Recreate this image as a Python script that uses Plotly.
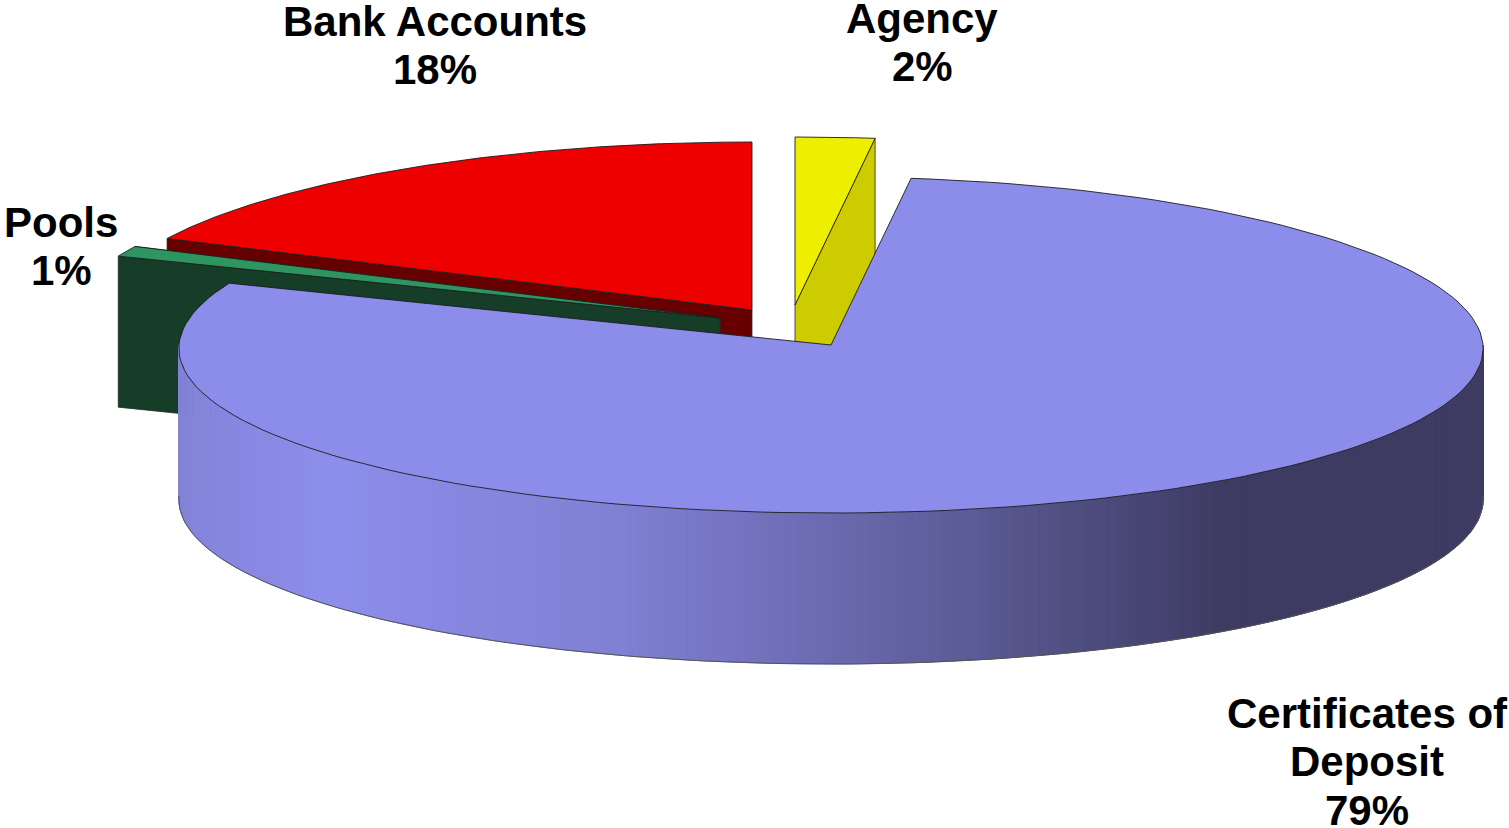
import numpy as np
import plotly.graph_objects as go

# Data (clockwise from 12 o'clock)
categories = ["Agency", "Certificates of Deposit", "Pools", "Bank Accounts"]
values = [2, 79, 1, 18]

# Label wrapping and placement
label_lines = [["Agency"], ["Certificates of", "Deposit"], ["Pools"], ["Bank Accounts"]]
label_x = [922, 1367, 61, 435]
label_y = [18, 713, 222, 21]
LINE_H = 48.6
FONT_SIZE = 42

# Styles
top_colors = ["#EEEE00", "#8C8CEB", "#2E9460", "#EE0000"]
side_colors = ["#CCCC00", "#3E3B63", "#153D28", "#660000"]
apexes = [(795, 305), (831, 345), (720, 318), (752, 310)]
RX, RY, DEPTH, PERSPECTIVE = 652, 168, 151, 0.02
grad_x = [180, 210, 330, 620, 800, 1000, 1225, 1490]
grad_r = [0x82, 0x86, 0x8E, 0x80, 0x6E, 0x58, 0x3E, 0x3E]
grad_g = [0x82, 0x86, 0x8E, 0x80, 0x6E, 0x58, 0x3B, 0x3B]
grad_b = [0xD6, 0xDE, 0xEC, 0xD4, 0xB6, 0x90, 0x63, 0x63]

edges = np.cumsum([0] + values) * 3.6


def rim(ax, ay, a0, a1, n=160):
    t = np.radians(np.linspace(a0, a1, n))
    return ax + RX * np.sin(t) * (1 - PERSPECTIVE * np.cos(t)), ay - RY * np.cos(t)


fig = go.Figure()


def poly(xs, ys, fill, line=None, width=1.0):
    fig.add_trace(go.Scatter(
        x=list(xs), y=list(ys), mode="lines", fill="toself", fillcolor=fill,
        line=dict(color=line or fill, width=width), hoverinfo="skip", showlegend=False))


def cut_face(ax, ay, angle, color):
    px, py = rim(ax, ay, angle, angle, 1)
    poly([ax, px[0], px[0], ax, ax], [ay, py[0], py[0] + DEPTH, ay + DEPTH, ay], color, "#2a2a2a", 0.8)


# Painter's order: back to front
order = [3, 2, 0, 1]
for i in order:
    ax, ay = apexes[i]
    a0, a1 = edges[i], edges[i + 1]
    if categories[i] == "Bank Accounts":
        cut_face(ax, ay, a0, side_colors[i])
    elif categories[i] == "Pools":
        cut_face(ax, ay, a1, side_colors[i])
        cut_face(ax, ay, a0, side_colors[i])
    elif categories[i] == "Agency":
        cut_face(ax, ay, a1, side_colors[i])
    else:
        # Curved outer wall, shaded in vertical strips (front half of the rim)
        angs = np.linspace(max(a0, 90), min(a1, 270), 171)
        sx, sy = rim(ax, ay, angs[0], angs[-1], len(angs))
        for k in range(len(angs) - 1):
            xm = (sx[k] + sx[k + 1]) / 2
            col = "rgb(%d,%d,%d)" % tuple(np.interp(xm, grad_x, c) for c in (grad_r, grad_g, grad_b))
            poly([sx[k], sx[k + 1], sx[k + 1], sx[k], sx[k]],
                 [sy[k], sy[k + 1], sy[k + 1] + DEPTH, sy[k] + DEPTH, sy[k]], col)
        fig.add_trace(go.Scatter(x=list(sx), y=list(sy + DEPTH), mode="lines",
                                 line=dict(color="#555555", width=1), hoverinfo="skip", showlegend=False))
    # Flat top face
    rx, ry = rim(ax, ay, a0, a1)
    poly([ax, *rx, ax], [ay, *ry, ay], top_colors[i], "#1c1c1c", 0.9)

# Labels
annotations = []
for i, c in enumerate(categories):
    rows = label_lines[i] + [f"{values[i]}%"]
    for r, row in enumerate(rows):
        annotations.append(dict(
            x=label_x[i], y=label_y[i] + r * LINE_H, xref="x", yref="y", text=f"<b>{row}</b>",
            showarrow=False, xanchor="center", yanchor="middle",
            font=dict(family="Liberation Sans, Arial, sans-serif", size=FONT_SIZE, color="#000000")))

fig.update_layout(
    width=1509, height=828, margin=dict(l=0, r=0, t=0, b=0, pad=0),
    paper_bgcolor="white", plot_bgcolor="white", showlegend=False, annotations=annotations,
    xaxis=dict(range=[0, 1509], visible=False, fixedrange=True),
    yaxis=dict(range=[828, 0], visible=False, fixedrange=True),
)
fig.write_html("out.html", config={"displayModeBar": False},
               post_script="document.body.style.margin='0';document.documentElement.style.overflow='hidden';")
